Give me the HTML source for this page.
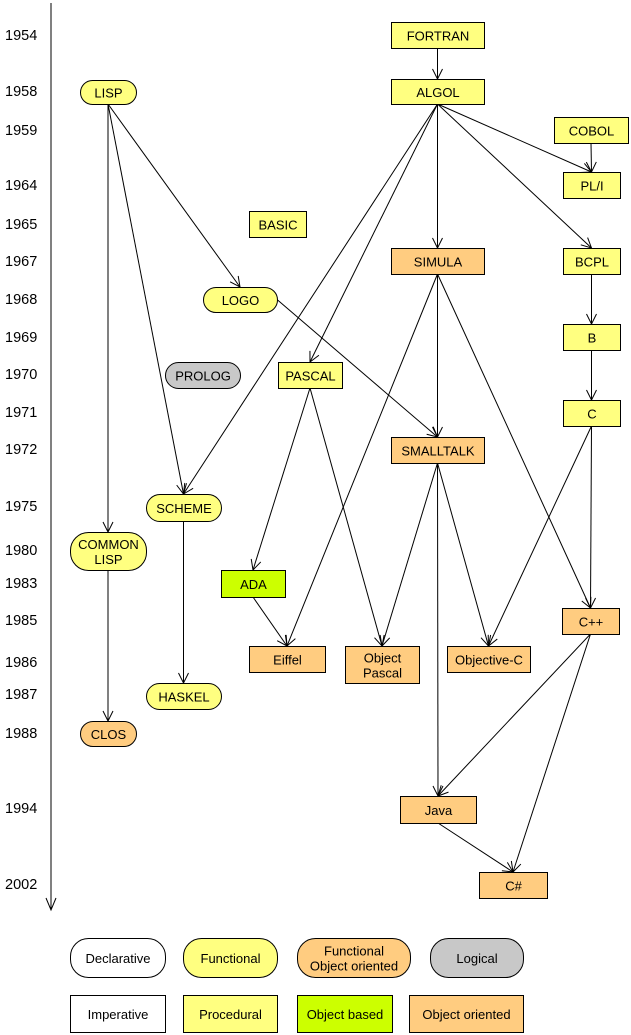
<!DOCTYPE html>
<html><head><meta charset="utf-8"><style>
html,body{margin:0;padding:0;background:#fff;}
svg{display:block;font-family:"Liberation Sans",Arial,sans-serif;}
</style></head><body>
<svg id="chart" width="631" height="1035" viewBox="0 0 631 1035" xmlns="http://www.w3.org/2000/svg">
<defs>
<marker id="arr" markerWidth="14" markerHeight="12" refX="11" refY="6" orient="auto" markerUnits="userSpaceOnUse">
<path d="M1,1 L11,6 L1,11" fill="none" stroke="#000" stroke-width="1"/>
</marker>
</defs>
<g id="axis"></g>
<g id="edges"></g>
<g id="nodes"></g>
<g id="legend"></g>
</svg>
<script>
const years = ["1954","1958","1959","1964","1965","1967","1968","1969","1970","1971","1972","1975","1980","1983","1985","1986","1987","1988","1994","2002"];
const yearY = [35,91,130,185,224,261,299,337,374,412,449,506,550,583,620,662,694,733,808,884];
const nodeNames = ["FORTRAN","ALGOL","LISP","COBOL","PL/I","BASIC","SIMULA","BCPL","LOGO","B","PROLOG","PASCAL","C","SMALLTALK","SCHEME","COMMON|LISP","ADA","C++","Eiffel","Object|Pascal","Objective-C","HASKEL","CLOS","Java","C#"];
const nodeBox = [[391,22,484,48],[391,79,484,104],[80,80,136,104],[554,117,628,143],[563,172,620,198],[249,211,306,237],[391,248,484,274],[563,248,620,274],[203,287,277,312],[563,324,620,350],[165,362,240,388],[278,362,342,388],[563,400,620,426],[391,437,484,463],[146,494,221,521],[70,532,146,570],[221,570,285,597],[562,608,619,634],[249,646,325,672],[345,646,419,683],[447,646,530,672],[146,683,221,709],[80,721,136,746],[400,796,476,823],[479,872,547,898]];
const nodeShape = ["r","r","o","r","r","r","r","r","o","r","o","r","r","r","o","o","r","r","r","r","r","o","o","r","r"];
const nodeColor = ["#ffff80","#ffff80","#ffff80","#ffff80","#ffff80","#ffff80","#ffcc80","#ffff80","#ffff80","#ffff80","#c8c8c8","#ffff80","#ffff80","#ffcc80","#ffff80","#ffff80","#ccff00","#ffcc80","#ffcc80","#ffcc80","#ffcc80","#ffff80","#ffcc80","#ffcc80","#ffcc80"];
const edgesFrom = ["FORTRAN","LISP","LISP","LISP","ALGOL","COBOL","ALGOL","ALGOL","ALGOL","ALGOL","BCPL","B","C","C","SIMULA","SIMULA","SIMULA","LOGO","PASCAL","PASCAL","SMALLTALK","SMALLTALK","SMALLTALK","ADA","SCHEME","COMMON|LISP","C++","C++","Java"];
const edgesTo = ["ALGOL","LOGO","SCHEME","COMMON|LISP","PL/I","PL/I","BCPL","SIMULA","PASCAL","SCHEME","B","C","C++","Objective-C","SMALLTALK","Eiffel","C++","SMALLTALK","ADA","Object|Pascal","Object|Pascal","Objective-C","Java","Eiffel","HASKEL","CLOS","Java","C#","C#"];
const legendTop = ["Declarative","Functional","Functional|Object oriented","Logical"];
const legendTopColor = ["#ffffff","#ffff80","#ffcc80","#c8c8c8"];
const legendBottom = ["Imperative","Procedural","Object based","Object oriented"];
const legendBottomColor = ["#ffffff","#ffff80","#ccff00","#ffcc80"];
const legendTopBox = [[70,938,165,977],[183,938,277,977],[297,938,410,977],[430,938,523,977]];
const legendBottomBox = [[70,995,165,1032],[183,995,277,1032],[297,995,392,1032],[409,995,523,1032]];

const NS="http://www.w3.org/2000/svg";
function mk(tag,attrs,parent){const e=document.createElementNS(NS,tag);for(const k in attrs)e.setAttribute(k,attrs[k]);parent.appendChild(e);return e;}
const slug=s=>s.replace(/\|/g,'-').replace(/\+/g,'plus').replace(/#/g,'sharp').replace(/[^A-Za-z0-9-]/g,'-').toLowerCase();

const axis=document.getElementById('axis');
const al=mk('line',{x1:51,y1:3,x2:51,y2:910,stroke:'#000','stroke-width':1},axis);


const ah=mk('path',{d:'M46,898 L51,910 L56,898',fill:'none',stroke:'#000'},axis);


years.forEach((y,i)=>{
  const t=mk('text',{x:5,y:yearY[i]+5,'font-size':14.5,fill:'#000'},axis);
  t.textContent=y;
  
  
});

function center(n){const b=nodeBox[nodeNames.indexOf(n)];return [(b[0]+b[2])/2,b[1],b[3]];}
const eg=document.getElementById('edges');
edgesFrom.forEach((f,i)=>{
  const a=center(f), b=center(edgesTo[i]);
  let x1=a[0], y1=a[2];
  if(f==="LOGO"){const bb=nodeBox[nodeNames.indexOf("LOGO")];x1=bb[2];y1=(bb[1]+bb[3])/2;}
  const l=mk('line',{x1:x1,y1:y1,x2:b[0],y2:b[1],stroke:'#000','stroke-width':1,'marker-end':'url(#arr)'},eg);
  
  
});

function box(parent,b,shape,color,label,name){
  const g=mk('g',{},parent);
  
  
  const w=b[2]-b[0],h=b[3]-b[1];
  const r=shape==='o'?Math.min(h/2,18):0;
  mk('rect',{x:b[0]+0.5,y:b[1]+0.5,width:w,height:h,rx:r,ry:r,fill:color,stroke:'#000','stroke-width':1},g);
  const lines=label.split('|');
  const cy=(b[1]+b[3])/2+1;
  lines.forEach((ln,k)=>{
    const t=mk('text',{x:(b[0]+b[2])/2+0.5,y:cy+4.5+(k-(lines.length-1)/2)*15,'font-size':13,'text-anchor':'middle',fill:'#000'},g);
    t.textContent=ln;
  });
}
const ng=document.getElementById('nodes');
nodeNames.forEach((n,i)=>box(ng,nodeBox[i],nodeShape[i],nodeColor[i],n,'node-'+slug(n)));
const lg=document.getElementById('legend');
legendTop.forEach((n,i)=>box(lg,legendTopBox[i],'o',legendTopColor[i],n,'legend-'+slug(n)));
legendBottom.forEach((n,i)=>box(lg,legendBottomBox[i],'r',legendBottomColor[i],n,'legend-'+slug(n)));
</script>
</body></html>
